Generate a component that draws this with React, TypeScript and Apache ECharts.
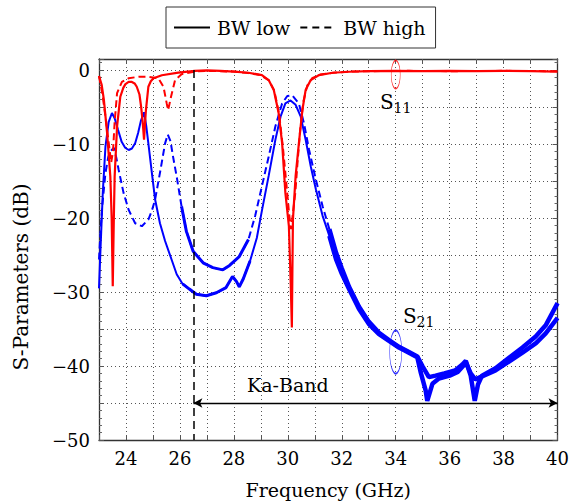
import React, { useEffect, useRef } from 'react';
import * as echarts from 'echarts';

// ---------- data (frequency GHz, dB) ----------
const S21_LOW: number[][] = [
  [23.0, -29.5], [23.06, -23.8], [23.14, -16.6], [23.24, -10.3], [23.36, -7.0], [23.48, -5.8],
  [23.58, -6.5], [23.7, -8.0], [23.84, -9.7], [23.97, -10.5], [24.1, -10.8], [24.22, -10.6],
  [24.34, -9.9], [24.45, -8.5], [24.55, -6.9], [24.67, -5.7], [24.75, -7.5], [24.83, -9.9],
  [24.96, -13.9], [25.08, -17.5], [25.26, -20.7], [25.45, -23.1], [25.69, -25.6], [25.88, -27.6],
  [26.1, -28.9], [26.35, -29.6], [26.61, -30.3], [26.98, -30.5], [27.35, -30.1], [27.71, -29.4],
  [27.95, -27.9], [28.1, -28.6], [28.2, -29.3], [28.35, -28.2], [28.6, -25.8], [28.85, -22.7],
  [29.04, -19.0], [29.29, -14.3], [29.54, -9.4], [29.73, -6.3], [29.91, -4.5], [30.1, -4.1],
  [30.29, -4.7], [30.48, -6.3], [30.66, -9.4], [30.85, -13.0], [31.04, -16.1], [31.29, -19.7],
  [31.54, -22.4], [31.79, -25.6], [32.0, -27.5], [32.27, -29.6], [32.64, -32.3], [33.0, -34.3],
  [33.38, -35.7], [33.75, -36.6], [34.12, -37.5], [34.49, -38.2], [34.8, -38.8], [34.93, -40.9],
  [35.11, -43.3], [35.17, -44.7], [35.36, -42.4], [35.6, -41.7], [36.0, -41.3], [36.3, -40.8],
  [36.5, -40.0], [36.6, -39.5], [36.78, -41.0], [36.95, -41.8], [37.2, -41.4], [37.7, -40.6],
  [38.2, -39.4], [38.7, -38.2], [39.2, -36.9], [39.56, -35.6], [40.0, -33.5],
];

const S21_HIGH: number[][] = [
  [23.0, -25.6], [23.06, -21.5], [23.12, -18.4], [23.24, -13.9], [23.34, -11.8], [23.42, -11.0],
  [23.55, -10.5], [23.64, -11.8], [23.73, -13.5], [23.91, -16.6], [24.1, -18.9], [24.34, -20.7],
  [24.59, -21.1], [24.83, -20.2], [24.96, -19.0], [25.08, -17.5], [25.26, -13.9], [25.45, -9.9],
  [25.55, -8.7], [25.65, -9.6], [25.75, -11.8], [25.88, -14.4], [26.06, -18.4], [26.24, -21.8],
  [26.49, -24.5], [26.86, -26.05], [27.22, -26.7], [27.59, -27.0], [27.84, -26.4], [28.2, -25.2],
  [28.54, -22.9], [28.79, -19.7], [29.04, -15.7], [29.29, -11.7], [29.54, -7.6], [29.79, -4.5],
  [29.98, -3.5], [30.16, -3.4], [30.41, -4.5], [30.6, -7.2], [30.79, -10.8], [31.04, -14.8],
  [31.29, -18.4], [31.54, -21.5], [31.79, -24.7], [32.0, -26.8], [32.27, -29.3], [32.64, -32.0],
  [33.0, -34.0], [33.38, -35.5], [33.75, -36.5], [34.12, -37.4], [34.49, -38.1], [34.8, -38.7],
  [34.99, -40.0], [35.23, -41.5], [35.48, -41.3], [35.8, -41.0], [36.2, -40.6], [36.47, -39.8],
  [36.6, -39.3], [36.78, -41.3], [36.93, -44.7], [37.05, -42.5], [37.2, -41.3], [37.7, -40.3],
  [38.2, -38.9], [38.7, -37.5], [39.19, -36.0], [39.56, -34.5], [40.0, -31.5],
];

const S11_LOW: number[][] = [
  [23.0, -0.8], [23.1, -2.0], [23.18, -4.0], [23.3, -8.5], [23.42, -14.4], [23.47, -20.0],
  [23.51, -29.2], [23.55, -20.0], [23.58, -14.4], [23.67, -7.6], [23.79, -3.6], [23.9, -2.4],
  [23.98, -1.9], [24.1, -1.6], [24.22, -1.6], [24.32, -1.8], [24.4, -2.25], [24.5, -3.3],
  [24.56, -4.9], [24.62, -7.0], [24.67, -9.4], [24.71, -7.0], [24.74, -5.4], [24.83, -2.25],
  [24.92, -1.5], [25.02, -1.1], [25.33, -0.7], [25.94, -0.35], [26.55, -0.1], [27.0, -0.05],
  [27.5, -0.1], [28.0, -0.2], [28.54, -0.36], [29.04, -0.67], [29.29, -1.35], [29.48, -2.7],
  [29.66, -5.8], [29.79, -9.9], [29.91, -16.6], [30.04, -21.1], [30.11, -29.1], [30.15, -34.8],
  [30.17, -27.0], [30.19, -20.2], [30.29, -14.3], [30.41, -9.9], [30.54, -5.4], [30.66, -2.7],
  [30.85, -1.35], [31.16, -0.67], [31.66, -0.36], [32.29, -0.22], [33.0, -0.15], [34.0, -0.1],
  [35.0, -0.15], [36.0, -0.1], [37.0, -0.15], [38.0, -0.1], [39.0, -0.15], [40.0, -0.2],
];

const S11_HIGH: number[][] = [
  [23.0, -0.8], [23.12, -3.1], [23.24, -6.3], [23.35, -9.5], [23.45, -12.5], [23.52, -11.0],
  [23.58, -7.0], [23.67, -3.1], [23.85, -1.6], [24.1, -1.1], [24.47, -0.9], [24.83, -0.9],
  [25.2, -1.1], [25.39, -2.25], [25.51, -4.5], [25.56, -5.4], [25.6, -4.8], [25.67, -3.6],
  [25.82, -1.35], [26.06, -0.55], [26.55, -0.2], [27.0, -0.1], [28.0, -0.2], [28.54, -0.4],
  [29.0, -0.7], [29.3, -1.4], [29.5, -2.8], [29.68, -6.0], [29.82, -10.5], [29.95, -15.5],
  [30.05, -19.5], [30.12, -21.5], [30.2, -19.0], [30.28, -16.5], [30.36, -12.5], [30.46, -8.0],
  [30.58, -4.2], [30.72, -2.1], [30.9, -1.1], [31.2, -0.6], [31.7, -0.35], [32.3, -0.2],
  [33.0, -0.15], [34.5, -0.1], [36.0, -0.15], [38.0, -0.1], [40.0, -0.15],
];

// measurement-noise regions (drawn as a thicker band) and band widths
const NOISY_RANGES: number[][] = [[25.95, 28.6], [31.3, 40]];
const NOISY_WIDTHS = [3, 4.5];

const LEGEND_NAMES = ['BW low', 'BW high'];
const KA_BAND = [26.5, 40]; // start / end frequency
const KA_ARROW_DB = -45;
const KA_LABEL = [30, -42.5];
const BAND_EDGE_DB = [0, -50];
const S11_ELLIPSE = [34, -0.6];
const S21_ELLIPSE = [34, -38.1];
const S11_LABEL = [33.42, -4.3];
const S21_LABEL = [34.27, -33.3];

const FONT = '"DejaVu Serif", serif';
const RED = '#ff0000';
const BLUE = '#0000ff';

export default function App() {
  const ref = useRef<HTMLDivElement>(null);

  useEffect(() => {
    if (!ref.current) return;
    const chart = echarts.init(ref.current, undefined, { renderer: 'svg' });

    const gridLine = { show: true, lineStyle: { type: [1, 3] as any, color: '#555', width: 1 } };
    const axisLine = { show: true, onZero: false, lineStyle: { color: '#333', width: 1.3 } };
    const tick = { show: true, inside: true, length: 5, lineStyle: { color: '#555', width: 1 } };

    const noiseSeries: any[] = [];
    [S21_HIGH, S21_LOW].forEach((d) => {
      NOISY_RANGES.forEach((r, i) => {
        noiseSeries.push({
          type: 'line', data: d.filter((p) => p[0] >= r[0] && p[0] <= r[1]),
          symbol: 'none', silent: true,
          lineStyle: { color: BLUE, width: NOISY_WIDTHS[i] }, z: 3,
        });
      });
    });

    const option: any = {
      animation: false,
      grid: { left: 99, right: 13, top: 59, bottom: 64, containLabel: false },
      legend: {
        data: LEGEND_NAMES,
        left: 166, top: 7,
        padding: [11, 10, 11, 7],
        itemGap: 9,
        itemWidth: 36, itemHeight: 14,
        borderColor: '#333', borderWidth: 1, borderRadius: 0,
        itemStyle: { opacity: 0 },
        textStyle: { fontFamily: FONT, fontSize: 19, color: '#000', padding: [0, 0, 0, 2] },
        selectedMode: false,
      },
      xAxis: [
        {
          type: 'value', min: 23, max: 40, interval: 1, position: 'bottom',
          axisLine, axisTick: tick,
          axisLabel: {
            formatter: (v: number) => (v % 2 === 0 ? String(v) : ''),
            fontFamily: FONT, fontSize: 18, color: '#000', margin: 9,
          },
          splitLine: gridLine,
          name: 'Frequency (GHz)', nameLocation: 'middle', nameGap: 40,
          nameTextStyle: { fontFamily: FONT, fontSize: 19, color: '#000' },
        },
        {
          type: 'value', min: 23, max: 40, interval: 1, position: 'top',
          axisLine, axisTick: tick, axisLabel: { show: false }, splitLine: { show: false },
        },
      ],
      yAxis: [
        {
          type: 'value', min: -50, max: 1.5, interval: 5, position: 'left',
          axisLine, axisTick: tick,
          minorTick: { show: true, splitNumber: 5, length: 3, lineStyle: { color: '#666' } },
          axisLabel: {
            formatter: (v: number) =>
              v % 10 === 0 ? (v < 0 ? '\u2212' + String(-v) : String(v)) : '',
            fontFamily: FONT, fontSize: 18, color: '#000', margin: 9,
          },
          splitLine: gridLine,
        },
        {
          type: 'value', min: -50, max: 1.5, interval: 5, position: 'right',
          axisLine, axisTick: tick,
          minorTick: { show: true, splitNumber: 5, length: 3, lineStyle: { color: '#666' } },
          axisLabel: { show: false }, splitLine: { show: false },
        },
      ],
      series: [
        {
          name: 'BW low', type: 'line', data: [], symbol: 'none',
          lineStyle: { color: '#000', width: 1.6, type: 'solid' }, itemStyle: { color: '#000' },
        },
        {
          name: 'BW high', type: 'line', data: [], symbol: 'none',
          lineStyle: { color: '#000', width: 1.6, type: [7, 5] }, itemStyle: { color: '#000' },
        },
        {
          type: 'line', data: S21_HIGH, symbol: 'none', z: 3,
          lineStyle: { color: BLUE, width: 2, type: [7, 4] },
        },
        {
          type: 'line', data: S21_LOW, symbol: 'none', z: 3,
          lineStyle: { color: BLUE, width: 2 },
        },
        ...noiseSeries,
        {
          type: 'line', data: S11_HIGH, symbol: 'none', z: 4,
          lineStyle: { color: RED, width: 2, type: [7, 4] },
        },
        {
          type: 'line', data: S11_LOW, symbol: 'none', z: 4,
          lineStyle: { color: RED, width: 2.2 },
          markLine: {
            silent: true,
            animation: false,
            label: { show: false },
            data: [
              [
                { coord: [KA_BAND[0], BAND_EDGE_DB[0]], symbol: 'none', lineStyle: { color: '#000', width: 1.5, type: [8, 5] } },
                { coord: [KA_BAND[0], BAND_EDGE_DB[1]], symbol: 'none' },
              ],
              [
                { coord: [KA_BAND[0], KA_ARROW_DB], symbol: 'arrow', symbolSize: [7, 9], lineStyle: { color: '#000', width: 1.3, type: 'solid' } },
                { coord: [KA_BAND[1], KA_ARROW_DB], symbol: 'arrow', symbolSize: [7, 9] },
              ],
            ],
            itemStyle: { color: '#000' },
          },
        },
        {
          type: 'scatter', data: [S11_ELLIPSE], symbol: 'circle', symbolSize: [9, 28], z: 5,
          silent: true,
          itemStyle: { color: 'rgba(0,0,0,0)', borderColor: RED, borderWidth: 1 },
        },
        {
          type: 'scatter', data: [S21_ELLIPSE], symbol: 'circle', symbolSize: [12, 43], z: 5,
          silent: true,
          itemStyle: { color: 'rgba(0,0,0,0)', borderColor: BLUE, borderWidth: 1 },
        },
      ],
    };

    chart.setOption(option);

    const px = (p: number[]) => chart.convertToPixel({ gridIndex: 0 } as any, p) as number[];
    const txt = (x: number, y: number, text: string, size: number, align = 'left', extra: any = {}) => ({
      type: 'text', x, y, silent: true, ...extra,
      style: {
        text, fill: '#000', fontFamily: FONT, fontSize: size,
        textAlign: align, textVerticalAlign: 'middle', align, verticalAlign: 'middle',
      },
    });
    const s11 = px(S11_LABEL);
    const s21 = px(S21_LABEL);
    const ka = px(KA_LABEL);
    chart.setOption({
      graphic: [
        txt(s11[0], s11[1], 'S', 20),
        txt(s11[0] + 13.5, s11[1] + 6, '11', 14),
        txt(s21[0], s21[1], 'S', 20),
        txt(s21[0] + 13.5, s21[1] + 6, '21', 14),
        txt(ka[0], ka[1], 'Ka-Band', 19, 'center'),
        txt(21, 277, 'S-Parameters (dB)', 20, 'center', { rotation: Math.PI / 2 }),
      ],
    });

    return () => chart.dispose();
  }, []);

  return (
    <div
      ref={ref}
      style={{ position: 'fixed', left: 0, top: 0, width: 572, height: 504, background: '#fff' }}
    />
  );
}
